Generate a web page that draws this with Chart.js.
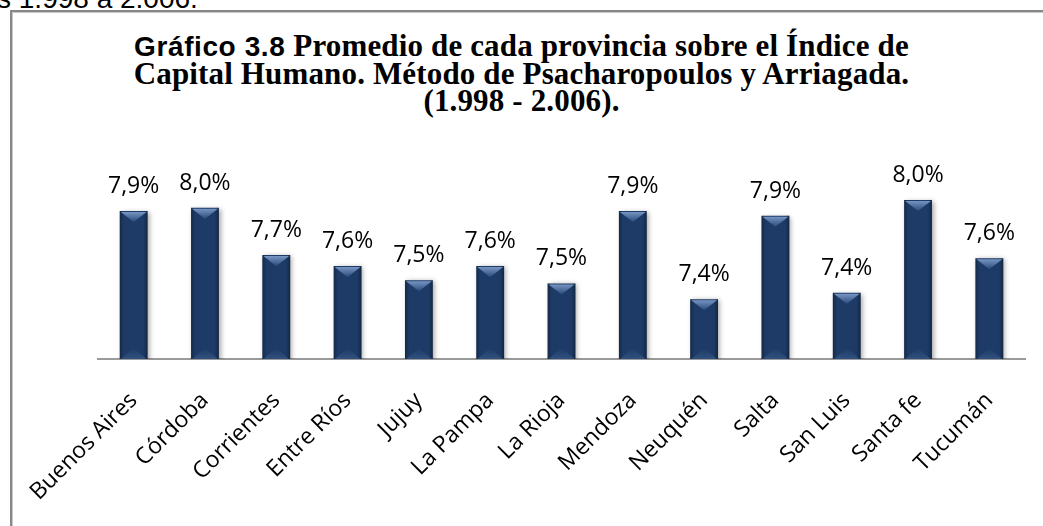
<!DOCTYPE html>
<html>
<head>
<meta charset="utf-8">
<script src="https://cdn.jsdelivr.net/npm/chart.js@4"></script>
<style>
  body { margin: 0; width: 1043px; height: 526px; overflow: hidden; background: #fff; position: relative; }
  #arriba { position: absolute; left: -3px; top: -15px; font: 28px "Liberation Sans", Arial, sans-serif; line-height: 1; color: #000; white-space: nowrap; }
  #marco { position: absolute; left: 10px; top: 10px; width: 1100px; height: 600px; border: 2px solid #888; box-shadow: inset 1px 1px 0 #c8c8c8; }
  #titulo { position: absolute; left: 0; top: 32px; width: 1043px; text-align: center; font: bold 31px "Liberation Serif", serif; letter-spacing: 0.15px; line-height: 27px; color: #000; }
  #titulo .sans { font-family: "Liberation Sans", Arial, sans-serif; font-size: 28px; letter-spacing: 0.6px; }
  canvas { position: absolute; left: 0; top: 0; }
</style>
</head>
<body>
<div id="arriba">s 1.998 a 2.006.</div>
<div id="marco"></div>
<div id="titulo">
  <div><span class="sans">Gráfico 3.8</span> Promedio de cada provincia sobre el Índice de</div>
  <div>Capital Humano. Método de Psacharopoulos y Arriagada.</div>
  <div>(1.998 - 2.006).</div>
</div>
<canvas id="grafico" width="1043" height="526"></canvas>
<script>
// Datos
const provincias = ["Buenos Aires", "Córdoba", "Corrientes", "Entre Ríos", "Jujuy", "La Pampa", "La Rioja",
  "Mendoza", "Neuquén", "Salta", "San Luis", "Santa fe", "Tucumán"]
const promedios = [7.94, 7.96, 7.66, 7.59, 7.5, 7.59, 7.48, 7.94, 7.38, 7.91, 7.42, 8.01, 7.64]
const etiquetas = promedios.map((v) => v.toFixed(1).replace(".", ",") + "%")

// Sombra y biselado de las barras
const bisel = {
  id: "bisel",
  beforeDatasetsDraw(chart) {
    const ctx = chart.ctx
    ctx.save()
    ctx.shadowColor = "rgba(0,0,0,0.35)"
    ctx.shadowBlur = 5
    ctx.shadowOffsetX = 2
    ctx.shadowOffsetY = 1
  },
  afterDatasetsDraw(chart) {
    const ctx = chart.ctx
    ctx.restore()
    const b = chart.chartArea.bottom
    chart.getDatasetMeta(0).data.forEach((bar) => {
      const w = bar.width
      const l = bar.x - w / 2
      const r = bar.x + w / 2
      const t = bar.y
      const lados = ctx.createLinearGradient(l, 0, r, 0)
      lados.addColorStop(0, "rgba(0,0,0,0.3)")
      lados.addColorStop(0.15, "rgba(0,0,0,0)")
      lados.addColorStop(0.85, "rgba(0,0,0,0)")
      lados.addColorStop(1, "rgba(0,0,0,0.35)")
      ctx.fillStyle = lados
      ctx.fillRect(l, t, w, b - t)
      const d = w * 0.4
      const arriba = ctx.createLinearGradient(0, t, 0, t + d)
      arriba.addColorStop(0, "#7f9dca")
      arriba.addColorStop(1, "#28497a")
      ctx.beginPath()
      ctx.moveTo(l + 1, t + 1)
      ctx.lineTo(r - 1, t + 1)
      ctx.lineTo(bar.x, t + d)
      ctx.closePath()
      ctx.fillStyle = arriba
      ctx.fill()
      const abajo = ctx.createLinearGradient(0, b, 0, b - d)
      abajo.addColorStop(0, "rgba(90,120,170,0.35)")
      abajo.addColorStop(1, "rgba(90,120,170,0)")
      ctx.beginPath()
      ctx.moveTo(l + 1, b)
      ctx.lineTo(r - 1, b)
      ctx.lineTo(bar.x, b - d)
      ctx.closePath()
      ctx.fillStyle = abajo
      ctx.fill()
    })
  },
}

// Etiquetas de valor sobre las barras
const valores = {
  id: "valores",
  afterDatasetsDraw(chart) {
    const ctx = chart.ctx
    ctx.save()
    ctx.font = '23px "Open Sans"'
    ctx.fillStyle = "#000"
    ctx.textAlign = "center"
    ctx.textBaseline = "alphabetic"
    chart.getDatasetMeta(0).data.forEach((bar, i) => {
      ctx.fillText(etiquetas[i], bar.x, bar.y - 18)
    })
    ctx.restore()
  },
}

new Chart(document.getElementById("grafico"), {
  type: "bar",
  data: {
    labels: provincias,
    datasets: [
      {
        data: promedios,
        backgroundColor: "#1d3b66",
        categoryPercentage: 1,
        barPercentage: 0.39,
      },
    ],
  },
  options: {
    responsive: false,
    animation: false,
    layout: { padding: { left: 98, right: 18, top: 170, bottom: 0 } },
    plugins: { legend: { display: false }, tooltip: { enabled: false } },
    scales: {
      y: { display: false, min: 7, max: 8.2 },
      x: {
        grid: { display: false },
        border: { display: true, color: "#9a9a9a", width: 2 },
        ticks: {
          color: "#000",
          font: { family: "Open Sans", size: 23 },
          minRotation: 45,
          maxRotation: 45,
          padding: 20,
        },
        afterFit: (scale) => {
          scale.height = 167
        },
      },
    },
  },
  plugins: [bisel, valores],
})
</script>
</body>
</html>
